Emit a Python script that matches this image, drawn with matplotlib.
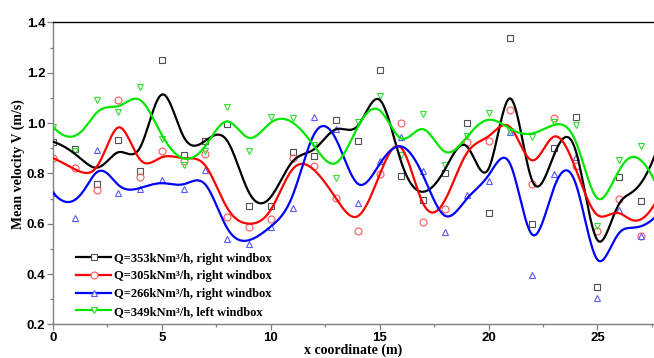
import numpy as np
import matplotlib
matplotlib.use("Agg")
import matplotlib.pyplot as plt
import matplotlib.ticker as mticker
from matplotlib.lines import Line2D

# measured mean velocity along the furnace, one value per metre
x_coord = list(range(29))

v_353_right = [0.926, 0.897, 0.759, 0.934, 0.808, 1.249, 0.874, 0.927, 0.995, 0.670,
               0.670, 0.885, 0.870, 1.013, 0.928, 1.209, 0.789, 0.693, 0.800, 1.001,
               0.642, 1.336, 0.599, 0.902, 1.024, 0.350, 0.787, 0.691, 0.960]
v_305_right = [0.861, 0.821, 0.735, 1.093, 0.787, 0.887, 0.850, 0.876, 0.628, 0.588,
               0.620, 0.862, 0.828, 0.701, 0.570, 0.799, 1.000, 0.605, 0.658, 0.923,
               0.927, 1.053, 0.759, 1.021, 0.830, 0.570, 0.697, 0.550, 0.740]
v_266_right = [0.723, 0.621, 0.893, 0.723, 0.739, 0.772, 0.739, 0.813, 0.540, 0.520,
               0.587, 0.663, 1.025, 0.976, 0.682, 0.848, 0.946, 0.808, 0.567, 0.714,
               0.769, 0.963, 0.396, 0.797, 0.865, 0.306, 0.655, 0.550, 0.660]
v_349_left = [0.985, 0.890, 1.091, 1.042, 1.143, 0.935, 0.833, 0.889, 1.065, 0.889,
              1.025, 1.019, 0.911, 0.783, 1.005, 1.106, 0.872, 1.037, 0.833, 0.948,
              1.040, 0.969, 0.944, 1.004, 0.993, 0.590, 0.854, 0.909, 0.700]

labels = ["Q=353kNm\u00b3/h, right windbox",
          "Q=305kNm\u00b3/h, right windbox",
          "Q=266kNm\u00b3/h, right windbox",
          "Q=349kNm\u00b3/h, left windbox"]
line_colors = ["#000000", "#ff0000", "#0000ff", "#00e600"]
marker_colors = ["#505050", "#ff5a5a", "#5a5aff", "#33dd33"]
markers = ["s", "o", "^", "v"]


def bspline(px, py, n=1200):
    """Clamped cubic B-spline using the data points as control points."""
    P = np.column_stack([px, py]).astype(float)
    k = 3
    m = len(P)
    knots = np.concatenate([np.zeros(k), np.arange(m - k + 1), np.full(k, m - k)]).astype(float)
    u = np.linspace(0, m - k, n)
    u[-1] -= 1e-9
    # Cox-de Boor recursion
    N = np.array([((knots[i] <= u) & (u < knots[i + 1])).astype(float)
                  for i in range(len(knots) - 1)])
    for d in range(1, k + 1):
        Nn = np.zeros((len(knots) - 1 - d, n))
        for i in range(len(knots) - 1 - d):
            a = knots[i + d] - knots[i]
            b = knots[i + d + 1] - knots[i + 1]
            t1 = (u - knots[i]) / a * N[i] if a > 0 else 0
            t2 = (knots[i + d + 1] - u) / b * N[i + 1] if b > 0 else 0
            Nn[i] = t1 + t2
        N = Nn
    curve = N.T @ P
    return curve[:, 0], curve[:, 1]


serif = "Liberation Serif"
sans = "Liberation Sans"

fig = plt.figure(figsize=(6.54, 3.58), dpi=100)
ax = fig.add_axes([0.081, 0.094, 0.919, 0.8436])

series = [v_353_right, v_305_right, v_266_right, v_349_left]
for vals, mk, mc in zip(series, markers, marker_colors):
    ax.plot(x_coord, vals, linestyle="none", marker=mk, markersize=5.0,
            markerfacecolor="none", markeredgecolor=mc, markeredgewidth=0.8,
            zorder=2)

for vals, lc in zip(series, line_colors):
    cx, cy = bspline(x_coord, vals)
    ax.plot(cx, cy, color=lc, linewidth=1.6, zorder=3)

ax.set_xlim(0, 27.6)
ax.set_ylim(0.2, 1.4)
ax.xaxis.set_major_locator(mticker.MultipleLocator(5))
ax.xaxis.set_minor_locator(mticker.MultipleLocator(2.5))
ax.yaxis.set_major_locator(mticker.MultipleLocator(0.2))
ax.yaxis.set_minor_locator(mticker.MultipleLocator(0.1))
ax.yaxis.set_major_formatter(mticker.FormatStrFormatter("%.1f"))

ax.tick_params(which="both", direction="out", color="#808080", width=0.9)
ax.tick_params(which="major", length=4, labelsize=9.5, pad=1.5)
ax.tick_params(which="minor", length=2.5)
for lbl in ax.get_xticklabels() + ax.get_yticklabels():
    lbl.set_fontfamily(sans)
    lbl.set_fontweight("bold")

for side in ("left", "bottom"):
    ax.spines[side].set_color("#808080")
    ax.spines[side].set_linewidth(1.0)
ax.spines["top"].set_color("black")
ax.spines["top"].set_linewidth(1.0)
ax.spines["right"].set_visible(False)

ax.set_xlabel("x coordinate (m)", fontfamily=serif, fontweight="bold", fontsize=10)
ax.set_ylabel("Mean velocity V (m/s)", fontfamily=serif, fontweight="bold", fontsize=10)
ax.xaxis.set_label_coords(0.5, -0.063)
ax.yaxis.set_label_coords(-0.047, 0.53)

handles = [Line2D([], [], color=lc, linewidth=1.6, marker=mk, markersize=5.0,
                  markerfacecolor="white", markeredgecolor=mc, markeredgewidth=0.8)
           for lc, mc, mk in zip(line_colors, marker_colors, markers)]
leg = ax.legend(handles, labels, loc="lower left", bbox_to_anchor=(0.02, -0.015),
                frameon=False, handlelength=2.8, handletextpad=0.2, labelspacing=0.45,
                prop={"family": serif, "weight": "bold", "size": 9})

fig.savefig("out.png", dpi=100)
